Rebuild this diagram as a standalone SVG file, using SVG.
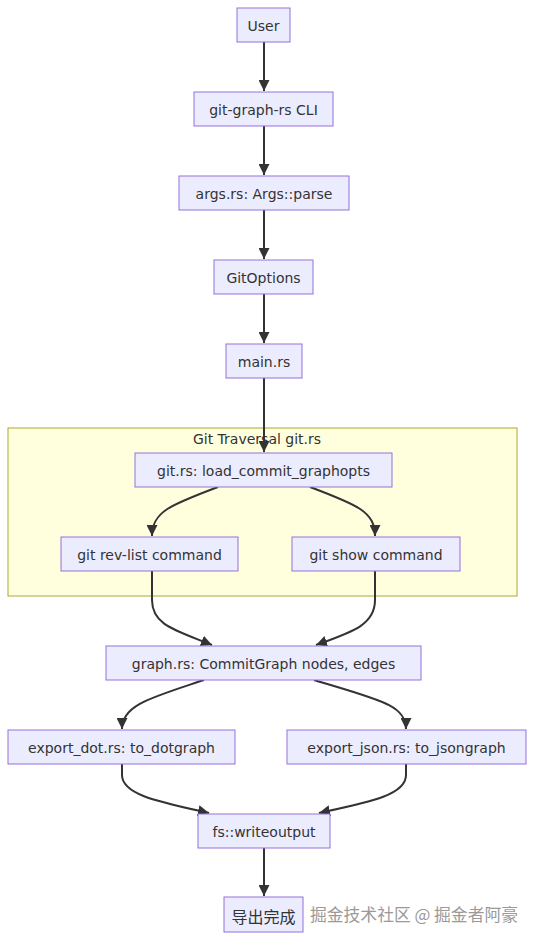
<svg xmlns="http://www.w3.org/2000/svg" width="534" height="942" viewBox="0 0 534 942">
<style>
.n rect{fill:#ECECFF;stroke:#9370DB;stroke-width:1}
.n text{font-family:"DejaVu Sans","Liberation Sans","Noto Sans CJK SC",sans-serif;font-size:14px;fill:#333;text-anchor:middle;dominant-baseline:central}
.n text.cjk{font-family:"Noto Sans CJK SC",sans-serif;font-size:16px}
.e path{fill:none;stroke:#333;stroke-width:2}
.cl{fill:#ffffde;stroke:#aaaa33;stroke-width:1}
.ct{font-family:"DejaVu Sans","Liberation Sans",sans-serif;font-size:14px;fill:#333;text-anchor:middle;dominant-baseline:central}
.wm{font-family:"Noto Sans CJK SC",sans-serif;font-size:16.8px;fill:#9a9a9a}
</style>
<defs>
<marker id="arr" viewBox="0 0 10 10" refX="10" refY="5" markerWidth="11" markerHeight="11" markerUnits="userSpaceOnUse" orient="auto">
<path d="M0,0 L10,5 L0,10 z" fill="#333"/>
</marker>
</defs>
<rect width="534" height="942" fill="#fff"/>
<g id="cluster-git">
<rect class="cl" x="8" y="428" width="509" height="168"/>
<text class="ct" x="257" y="439">Git Traversal git.rs</text>
</g>
<g id="edges" class="e">
<path d="M264,42 L264,91" marker-end="url(#arr)"/>
<path d="M264,126 L264,175" marker-end="url(#arr)"/>
<path d="M264,210 L264,259" marker-end="url(#arr)"/>
<path d="M264,294 L264,343" marker-end="url(#arr)"/>
<path d="M264,378 L264,452" marker-end="url(#arr)"/>
<path d="M218,487 C170,505 152,512 152,536" marker-end="url(#arr)"/>
<path d="M310,487 C358,505 375,512 375,536" marker-end="url(#arr)"/>
<path d="M152,571 L152,600 C152,625 175,630 212,645" marker-end="url(#arr)"/>
<path d="M375,571 L375,600 C375,625 352,632 316,645" marker-end="url(#arr)"/>
<path d="M204,680 C150,698 122,705 122,729" marker-end="url(#arr)"/>
<path d="M314,680 C380,700 406,705 406,729" marker-end="url(#arr)"/>
<path d="M122,764 L122,775 C122,795 160,802 209,813" marker-end="url(#arr)"/>
<path d="M406,764 L406,775 C406,795 370,802 319,813" marker-end="url(#arr)"/>
<path d="M264,848 L264,896" marker-end="url(#arr)"/>
</g>
<g id="user" class="n"><rect x="237" y="8" width="53" height="34"/><text x="263.5" y="26">User</text></g>
<g id="cli" class="n"><rect x="194" y="92" width="139" height="34"/><text x="263.5" y="110">git-graph-rs CLI</text></g>
<g id="args" class="n"><rect x="179" y="176" width="170" height="34"/><text x="264" y="194">args.rs: Args::parse</text></g>
<g id="gitoptions" class="n"><rect x="214" y="260" width="99" height="34"/><text x="263.5" y="278">GitOptions</text></g>
<g id="main" class="n"><rect x="226" y="344" width="76" height="34"/><text x="264" y="362">main.rs</text></g>
<g id="load" class="n"><rect x="135" y="453" width="257" height="34"/><text x="263.5" y="471">git.rs: load_commit_graphopts</text></g>
<g id="revlist" class="n"><rect x="61" y="537" width="177" height="34"/><text x="149.5" y="555">git rev-list command</text></g>
<g id="show" class="n"><rect x="292" y="537" width="168" height="34"/><text x="376" y="555">git show command</text></g>
<g id="graph" class="n"><rect x="106" y="646" width="315" height="34"/><text x="263.5" y="664">graph.rs: CommitGraph nodes, edges</text></g>
<g id="dot" class="n"><rect x="8" y="730" width="227" height="34"/><text x="121.5" y="748">export_dot.rs: to_dotgraph</text></g>
<g id="json" class="n"><rect x="287" y="730" width="239" height="34"/><text x="406.5" y="748">export_json.rs: to_jsongraph</text></g>
<g id="fs" class="n"><rect x="198" y="814" width="132" height="34"/><text x="264" y="832">fs::writeoutput</text></g>
<g id="done" class="n"><rect x="224" y="897" width="79" height="35"/><text class="cjk" x="263.5" y="915.5">导出完成</text></g>
<text class="wm" x="310" y="921">掘金技术社区 @ 掘金者阿豪</text>
</svg>
